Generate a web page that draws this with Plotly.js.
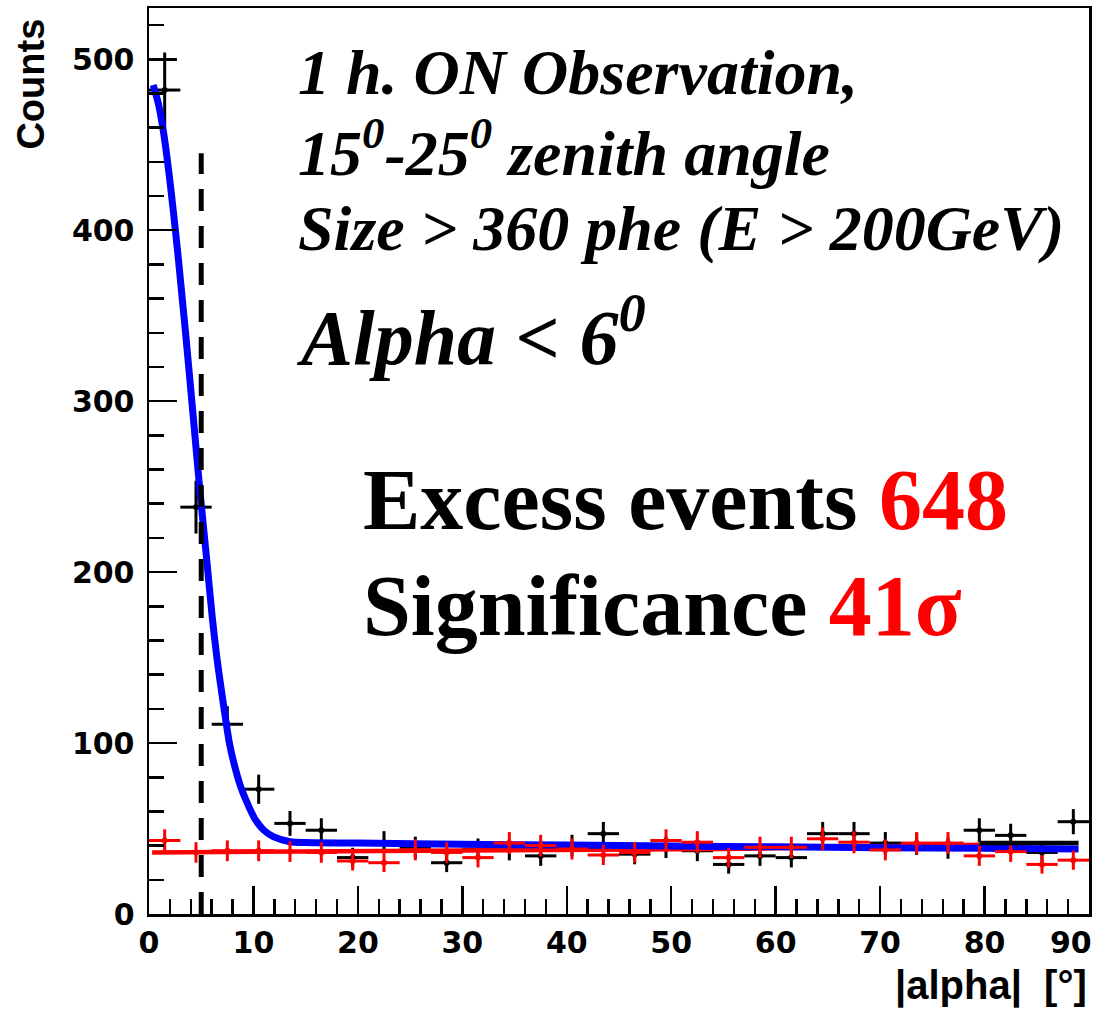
<!DOCTYPE html>
<html>
<head>
<meta charset="utf-8">
<script src="https://cdn.plot.ly/plotly-3.0.1.min.js"></script>
<style>
  html, body { margin: 0; padding: 0; background: #fff; }
  #plot { width: 1106px; height: 1012px; }
</style>
</head>
<body>
<div id="plot"></div>
<script>
// |alpha| histogram bins, 3 degrees wide
const binCenters = [1.5, 4.5, 7.5, 10.5, 13.5, 16.5, 19.5, 22.5, 25.5, 28.5,
                    31.5, 34.5, 37.5, 40.5, 43.5, 46.5, 49.5, 52.5, 55.5, 58.5,
                    61.5, 64.5, 67.5, 70.5, 73.5, 76.5, 79.5, 82.5, 85.5, 88.5];
const binHalfWidth = 1.5;

// ON source counts (black)
const onCounts = [482, 238, 111, 73, 53, 49, 33, 42, 39, 30,
                  38, 37.5, 34, 40, 47, 35, 39, 37, 29, 34,
                  33, 47, 47, 41.5, 41, 38.5, 49, 46, 36, 54];

// OFF / background counts (red)
const offCounts = [43, 36, 37, 37, 36.5, 36, 31, 30, 37.5, 36,
                   33, 41.5, 40, 38, 34.5, 36, 43, 42, 33, 39,
                   39, 44, 42, 37.5, 41.5, 41.5, 34, 36.5, 29, 31.5];

// fit to the ON distribution (blue)
const onFitX = [0.4, 0.9, 1.4, 1.9, 2.35, 2.8, 3.15, 3.5, 4.1, 4.5, 4.9, 5.5, 6.05, 6.5,
                7.0, 7.7, 8.1, 8.75, 9.4, 10.2, 11.0, 11.9, 13.5, 15, 20, 30, 40, 50,
                60, 70, 80, 89];
const onFitY = [485, 474, 457, 434, 410, 384, 362, 340, 300, 273, 246, 209, 174, 150,
                128, 100, 89, 75, 65, 55, 49, 45.3, 42.3, 41.8, 41.5, 40.8, 40.3, 39.8,
                39.3, 38.8, 38.4, 38];

// fit to the OFF distribution (red)
const offFitX = [0.3, 15, 30, 45, 55, 65, 72, 79.5];
const offFitY = [36, 36.5, 37, 37.5, 38, 39, 40, 40.5];

// ON background level in the tail (black)
const onTailX = [79.5, 89];
const onTailY = [41.5, 41.5];

// signal cut
const alphaCut = 5;
const cutLineTop = 445;

// axis ticks (the label at the right edge is drawn separately so it stays inside the page)
const xTickVals = [0, 10, 20, 30, 40, 50, 60, 70, 80, 90];
const xTickText = ['0', '10', '20', '30', '40', '50', '60', '70', '80', ''];
const xEdgeLabel = '90';
const yTickVals = [0, 100, 200, 300, 400, 500];
const yTickText = ['0', '100', '200', '300', '400', '500'];

// statistics quoted on the plot
const excessEvents = 648;
const significance = 41;

const serifBI = {family: 'Liberation Serif, Times New Roman, serif', weight: 'bold', style: 'italic', color: '#000'};
const serifB = {family: 'Liberation Serif, Times New Roman, serif', weight: 'bold', color: '#000'};
const sansB = {family: 'Liberation Sans, Arial, sans-serif', weight: 'bold', color: '#000'};
const tickFont = {family: 'DejaVu Sans, Arial, sans-serif', weight: 'bold', size: 30, color: '#000'};

const traces = [
  {
    x: binCenters, y: onCounts, type: 'scatter', mode: 'markers',
    marker: {size: 0, color: '#000'},
    error_y: {type: 'sqrt', color: '#000', thickness: 3, width: 0},
    error_x: {type: 'constant', value: binHalfWidth, color: '#000', thickness: 3, width: 0},
    hoverinfo: 'skip'
  },
  {
    x: offFitX, y: offFitY, type: 'scatter', mode: 'lines',
    line: {color: '#ff0000', width: 4.5}, hoverinfo: 'skip'
  },
  {
    x: onFitX, y: onFitY, type: 'scatter', mode: 'lines',
    line: {color: '#0000ff', width: 7, shape: 'spline', smoothing: 0.8}, hoverinfo: 'skip'
  },
  {
    x: binCenters, y: offCounts, type: 'scatter', mode: 'markers',
    marker: {size: 0, color: '#ff0000'},
    error_y: {type: 'sqrt', color: '#ff0000', thickness: 3, width: 0},
    error_x: {type: 'constant', value: binHalfWidth, color: '#ff0000', thickness: 3, width: 0},
    hoverinfo: 'skip'
  },
  {
    x: onTailX, y: onTailY, type: 'scatter', mode: 'lines',
    line: {color: '#000', width: 4.5}, hoverinfo: 'skip'
  },
  {
    x: [alphaCut, alphaCut], y: [0, cutLineTop], type: 'scatter', mode: 'lines',
    line: {color: '#000', width: 5, dash: '22px,15px'}, hoverinfo: 'skip'
  }
];

const layout = {
  width: 1106, height: 1012, autosize: false,
  margin: {l: 149, r: 17, t: 8, b: 98},
  paper_bgcolor: '#fff', plot_bgcolor: '#fff',
  showlegend: false,
  xaxis: {
    range: [0, 90], tickmode: 'array', tickvals: xTickVals, ticktext: xTickText,
    showgrid: false, zeroline: false,
    showline: true, mirror: true, linecolor: '#000', linewidth: 2.5,
    ticks: 'inside', ticklen: 28, tickwidth: 2.5, tickcolor: '#000',
    minor: {dtick: 2, tick0: 0, ticks: 'inside', ticklen: 15, tickwidth: 2.5, tickcolor: '#000', showgrid: false},
    tickfont: tickFont, ticklabelstandoff: 0
  },
  yaxis: {
    range: [0, 530], tickmode: 'array', tickvals: yTickVals, ticktext: yTickText,
    showgrid: false, zeroline: false,
    showline: true, mirror: true, linecolor: '#000', linewidth: 2.5,
    ticks: 'inside', ticklen: 28, tickwidth: 2.5, tickcolor: '#000',
    minor: {dtick: 20, tick0: 0, ticks: 'inside', ticklen: 15, tickwidth: 2.5, tickcolor: '#000', showgrid: false},
    tickfont: tickFont, ticklabelstandoff: 6
  },
  annotations: [
    {xref: 'x', yref: 'paper', x: xTickVals[xTickVals.length - 1], y: 0, xanchor: 'right', yanchor: 'top',
     xshift: 5, yshift: -9, showarrow: false, text: xEdgeLabel, font: tickFont},
    {xref: 'x', yref: 'y', x: 14.1, y: 492, xanchor: 'left', yanchor: 'middle', showarrow: false,
     text: '1 h. ON Observation,', font: Object.assign({size: 64}, serifBI)},
    {xref: 'x', yref: 'y', x: 14.1, y: 448, xanchor: 'left', yanchor: 'middle', showarrow: false,
     text: '15<sup>0</sup>-25<sup>0</sup> zenith angle', font: Object.assign({size: 64}, serifBI)},
    {xref: 'x', yref: 'y', x: 14.1, y: 401, xanchor: 'left', yanchor: 'middle', showarrow: false,
     text: 'Size &gt; 360 phe (E &gt; 200GeV)', font: Object.assign({size: 64}, serifBI)},
    {xref: 'x', yref: 'y', x: 13.9, y: 341, xanchor: 'left', yanchor: 'middle', showarrow: false,
     text: 'Alpha &lt; 6<sup>0</sup>', font: Object.assign({size: 78}, serifBI)},
    {xref: 'x', yref: 'y', x: 20.3, y: 242, xanchor: 'left', yanchor: 'middle', showarrow: false,
     text: 'Excess events <span style="color:#ff0000">' + excessEvents + '</span>', font: Object.assign({size: 86}, serifB)},
    {xref: 'x', yref: 'y', x: 20.3, y: 180, xanchor: 'left', yanchor: 'middle', showarrow: false,
     text: 'Significance <span style="color:#ff0000">' + significance + 'σ</span>', font: Object.assign({size: 86}, serifB)},
    {xref: 'paper', yref: 'paper', x: -0.125, y: 0.916, xanchor: 'center', yanchor: 'middle', showarrow: false,
     textangle: -90, text: 'Counts', font: Object.assign({size: 38}, sansB)},
    {xref: 'paper', yref: 'paper', x: 1.0, y: -0.079, xanchor: 'right', yanchor: 'middle', showarrow: false,
     text: '|alpha|\u00a0\u00a0[°]', font: Object.assign({size: 40}, sansB)}
  ]
};

Plotly.newPlot('plot', traces, layout, {staticPlot: true, displayModeBar: false});
</script>
</body>
</html>
